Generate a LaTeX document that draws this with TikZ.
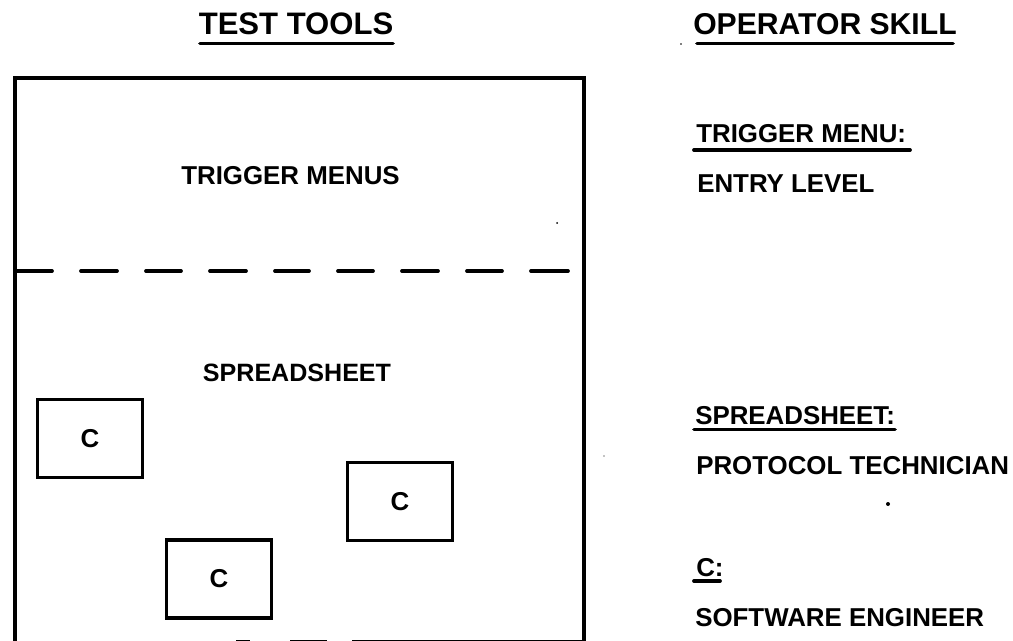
\documentclass[tikz,border=0pt]{standalone}
\usepackage{fontspec}
\setmainfont{Liberation Sans}
\begin{document}
\begin{tikzpicture}[x=0.75pt,y=-0.75pt,
  line cap=round,
  edge/.style={line width=2.6pt,line cap=butt},
  rule/.style={line width=2.8pt},
  dashpiece/.style={line width=2.8pt},
  head/.style={inner sep=0pt,font=\fontsize{23.3}{26}\selectfont\bfseries},
  lab/.style={inner sep=0pt,font=\fontsize{19.4}{22}\selectfont\bfseries},
  boxc/.style={draw,line width=2.6pt,minimum width=78.5pt,minimum height=58.5pt,inner sep=0pt,font=\fontsize{19.4}{22}\selectfont\bfseries}]
\useasboundingbox (0,0) rectangle (1013,641);
\fill[white] (0,0) rectangle (1013,641);
% main frame
\draw[edge] (15,641) -- (15,78) -- (584,78) -- (584,641);
\draw[edge] (236,641.5) -- (250,641.5) (290,641.5) -- (327,641.5) (352,641.5) -- (584,641.5);
\foreach \a/\b in {15/52,81/117,146/181,210/246,275/309,338/373,402/438,467/502,531/568}
  \draw[dashpiece] (\a,271) -- (\b,271);
% headings
\node[head,anchor=base] (tools) at (296,35) {TEST TOOLS};
\draw[rule] (200,43.5) -- (393,43.5);
\node[head,anchor=base west,font=\fontsize{22.6}{26}\selectfont\bfseries] (skill) at (693,35) {OPERATOR SKILL};
\draw[rule] (697,43.5) -- (953,43.5);
% left labels
\node[lab,anchor=base] (tm) at (290.5,185) {TRIGGER MENUS};
\node[lab,anchor=base,font=\fontsize{18.8}{22}\selectfont\bfseries] (ss) at (297,382) {SPREADSHEET};
\node[boxc] (c1) at (90,438.5) {C};
\node[boxc] (c2) at (400,501.5) {C};
\node[boxc] (c3) at (219,579) {C};
% right labels
\node[lab,anchor=base west] (r1) at (696,143) {TRIGGER MENU:};
\draw[rule] (694,150) -- (910,150);
\node[lab,anchor=base west] (r2) at (697,193) {ENTRY LEVEL};
\node[lab,anchor=base west] (r3) at (695,424) {SPREADSHEET:};
\draw[rule] (694,429.5) -- (895,429.5);
\node[lab,anchor=base west] (r4) at (696,474) {PROTOCOL TECHNICIAN};
\node[lab,anchor=base west] (r5) at (696,576) {C:};
\draw[rule] (694,581) -- (720,581);
\node[lab,anchor=base west] (r6) at (695,626) {SOFTWARE ENGINEER};
% specks
\fill (888,504) circle[radius=2];
\fill (557,223) circle[radius=1];
\fill (681,44) circle[radius=0.8];
\fill (604,456) circle[radius=0.6];
\end{tikzpicture}
\end{document}
